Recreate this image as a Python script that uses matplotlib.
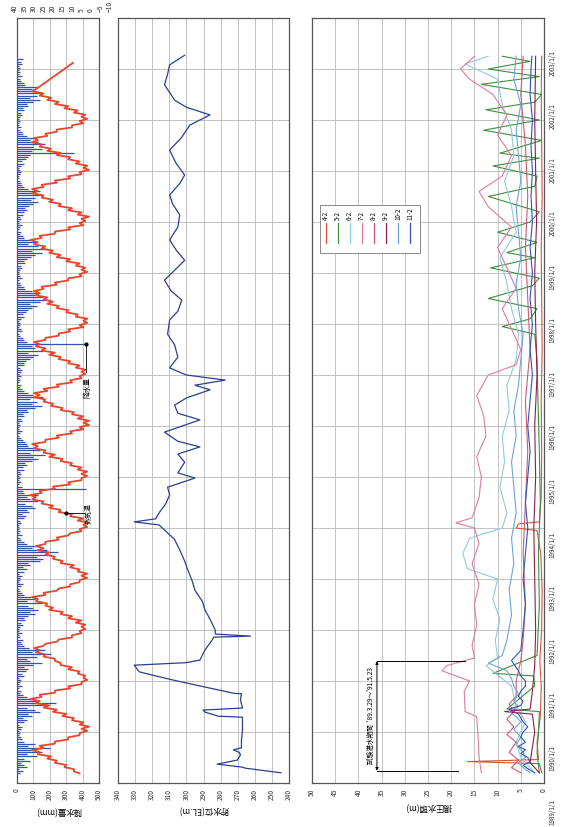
import numpy as np
import matplotlib.pyplot as plt
import matplotlib.transforms as mtransforms
from matplotlib.patches import Rectangle

plt.rcParams['font.family'] = ['Noto Sans CJK JP', 'DejaVu Sans']

W, H = 565, 827


def px_box(x0, y0, x1, y1):
    # pixel box (from top-left) -> figure fraction rect
    return [x0 / W, 1 - y1 / H, (x1 - x0) / W, (y1 - y0) / H]


# 気温 (℃), 半月ごと 1989/3 ～ 2002/8
temp_c = (
    [6, 9, 9, 14, 13, 19, 18, 23, 21, 28, 27, 31, 25, 27, 19, 19, 12, 12, 6, 6]
    + [2, 5, 1, 6, 4, 10, 9, 15, 13, 20, 18, 25, 22, 29, 27, 32, 26, 27, 19, 19, 11, 12, 5, 5]
    + [2, 4, 3, 7, 6, 12, 10, 16, 16, 19, 19, 25, 24, 29, 27, 30, 25, 24, 18, 17, 10, 10, 5, 6]
    + [3, 5, 3, 8, 5, 12, 10, 16, 15, 22, 20, 24, 23, 29, 28, 31, 24, 25, 18, 17, 11, 11, 6, 6]
    + [2, 5, 2, 7, 6, 11, 9, 16, 15, 20, 19, 24, 22, 28, 25, 29, 24, 24, 17, 18, 12, 11, 5, 6]
    + [2, 4, 1, 7, 4, 11, 10, 17, 16, 22, 20, 26, 25, 31, 29, 32, 26, 27, 19, 20, 11, 12, 5, 5]
    + [2, 5, 2, 7, 5, 11, 10, 16, 15, 22, 19, 25, 24, 30, 28, 31, 24, 24, 17, 18, 10, 11, 4, 6]
    + [1, 4, 1, 7, 4, 10, 9, 16, 15, 21, 20, 25, 24, 30, 27, 30, 23, 25, 17, 18, 10, 11, 5, 6]
    + [3, 5, 3, 8, 6, 12, 11, 17, 16, 22, 19, 26, 24, 29, 27, 30, 24, 24, 17, 17, 11, 12, 4, 6]
    + [2, 4, 2, 8, 7, 13, 12, 18, 17, 23, 20, 25, 23, 29, 27, 30, 25, 26, 18, 19, 12, 12, 5, 6]
    + [2, 5, 3, 8, 6, 13, 11, 18, 16, 22, 20, 26, 24, 30, 28, 32, 26, 27, 19, 19, 11, 12, 4, 6]
    + [3, 5, 1, 7, 5, 12, 10, 17, 16, 22, 20, 26, 25, 31, 28, 31, 25, 26, 18, 19, 11, 12, 5, 6]
    + [1, 4, 2, 8, 6, 12, 11, 18, 16, 23, 21, 27, 26, 31, 28, 30, 23, 24, 18, 18, 10, 10, 4, 6]
    + [2, 5, 3, 9, 7, 14, 12, 19, 17, 23, 21, 27, 25, 31, 29]
)
temp_tail_t = [2003.12]
temp_tail_c = [9.5]

# 日降水量 (mm), 半月ごとの最大値 1989/3 ～ 2003/3
precip_mm = (
    [20, 35, 15, 60, 40, 25, 80, 45, 120, 60, 150, 90, 200, 70, 110, 40, 30, 25, 15, 20]
    + [10, 25, 30, 15, 45, 60, 35, 90, 70, 140, 110, 60, 180, 240, 130, 90, 60, 35, 20, 25, 15, 30, 10, 20]
    + [25, 15, 40, 30, 55, 70, 45, 100, 150, 80, 60, 120, 210, 90, 170, 75, 40, 30, 25, 35, 20, 15, 30, 10]
    + [15, 20, 35, 25, 50, 40, 65, 110, 80, 130, 95, 70, 150, 60, 110, 85, 45, 30, 20, 15, 25, 35, 10, 20]
    + [20, 30, 15, 45, 60, 35, 80, 70, 140, 160, 120, 200, 250, 180, 90, 110, 60, 40, 25, 20, 30, 15, 20, 10]
    + [10, 15, 25, 20, 40, 55, 30, 75, 60, 110, 90, 50, 130, 80, 60, 130, 45, 35, 420, 30, 15, 25, 10, 20]
    + [15, 25, 20, 40, 35, 60, 50, 90, 130, 100, 170, 80, 140, 110, 70, 60, 50, 35, 25, 15, 20, 30, 10, 15]
    + [20, 10, 30, 25, 45, 35, 70, 60, 110, 150, 90, 120, 80, 160, 100, 70, 45, 30, 20, 25, 15, 20, 10, 25]
    + [15, 25, 30, 20, 40, 40, 55, 80, 95, 130, 70, 160, 110, 90, 420, 60, 40, 35, 20, 15, 30, 25, 10, 20]
    + [20, 15, 25, 40, 35, 55, 70, 90, 120, 80, 140, 200, 160, 110, 130, 90, 50, 40, 25, 20, 15, 30, 20, 10]
    + [10, 20, 30, 25, 50, 40, 60, 85, 110, 150, 90, 180, 130, 70, 120, 80, 45, 35, 20, 25, 15, 20, 30, 10]
    + [15, 25, 20, 35, 45, 60, 50, 75, 100, 130, 85, 110, 160, 90, 140, 70, 40, 30, 25, 20, 15, 10, 20, 25]
    + [20, 10, 25, 40, 30, 55, 65, 80, 350, 90, 150, 100, 170, 130, 80, 110, 60, 35, 30, 20, 25, 15, 10, 20]
    + [15, 20, 30, 25, 45, 35, 70, 60, 100, 140, 80, 120, 150, 110, 90, 130, 50, 40, 25, 20, 30, 15, 20, 10]
    + [20, 15, 30, 25, 35]
)

# 貯水位 (EL.m)
level_t = [1989.20, 1989.29, 1989.31, 1989.37, 1989.45, 1989.55, 1989.60, 1989.65, 1989.69, 1989.84,
           1990.04, 1990.29, 1990.31, 1990.39, 1990.43, 1990.47, 1990.63, 1990.75, 1990.76, 1991.02,
           1991.10, 1991.18, 1991.31, 1991.36, 1991.41, 1991.61, 1991.80, 1991.86, 1991.88, 1991.92,
           1992.00, 1992.20, 1992.39, 1992.55, 1992.78, 1992.95, 1993.18, 1993.35, 1993.57, 1993.78,
           1993.96, 1994.06, 1994.12, 1994.18, 1994.31, 1994.48, 1994.65, 1994.80, 1994.98, 1995.08,
           1995.29, 1995.45, 1995.59, 1995.70, 1995.88, 1996.12, 1996.25, 1996.41, 1996.55, 1996.71,
           1996.80, 1996.90, 1997.00, 1997.14, 1997.35, 1997.59, 1997.80, 1998.08, 1998.25, 1998.47,
           1998.65, 1998.86, 1999.05, 1999.25, 1999.45, 1999.65, 1999.90, 2000.14, 2000.35, 2000.53,
           2000.75, 2000.92, 2001.15, 2001.41, 2001.65, 2001.90, 2002.10, 2002.25, 2002.39, 2002.55,
           2002.69, 2002.90, 2003.08, 2003.27]
level_m = [244.7, 265.4, 267.2, 282.0, 270.2, 268.4, 269.0, 272.5, 267.8, 267.8,
           267.2, 267.2, 281.4, 289.1, 290.3, 267.2, 268.4, 267.8, 272.5, 308.0,
           318.0, 327.6, 330.5, 300.0, 292.1, 289.1, 285.0, 284.0, 262.5, 283.0,
           283.2, 286.0, 289.1, 290.5, 295.0, 296.5, 299.2, 301.0, 303.9, 307.0,
           312.8, 316.0, 330.5, 318.0, 315.7, 312.0, 309.8, 311.0, 295.0, 305.0,
           301.0, 305.0, 292.1, 305.0, 312.8, 292.1, 305.0, 306.9, 300.0, 286.2,
           295.0, 277.3, 300.0, 309.8, 305.0, 306.9, 311.0, 309.8, 305.0, 302.7,
           309.0, 312.8, 307.0, 301.0, 306.0, 309.8, 305.0, 303.9, 308.0, 309.8,
           304.0, 301.0, 306.0, 309.8, 303.0, 298.0, 286.2, 300.0, 306.9, 310.0,
           312.8, 311.0, 309.8, 301.0]

# 揚圧水頭 (m)
p42_t = [1989.20, 1989.38, 1989.42, 1989.46, 1989.8, 1990.3, 1990.9, 1991.4, 1992.0, 1992.8,
         1993.5, 1993.95, 1994.0, 1994.08, 1994.12, 1994.6, 1995.5, 1996.5, 1997.5, 1998.5,
         1999.5, 2000.5, 2001.5, 2002.5, 2003.25]
p42_v = [0.5, 1.0, 16.5, 1.2, 1.5, 0.8, 0.6, 0.9, 0.5, 0.4,
         0.7, 1.5, 6.0, 5.5, 1.0, 0.6, 0.5, 0.6, 0.4, 0.5,
         0.6, 0.4, 0.5, 0.6, 0.5]

p52_t = [1989.2, 1989.6, 1990.0, 1990.4, 1990.45, 1990.9, 1991.1, 1991.15, 1991.5, 1992.5,
         1993.5, 1994.5, 1995.5, 1996.5, 1997.3, 1997.8, 1997.95, 1998.1, 1998.3, 1998.5,
         1998.75, 1998.9, 1999.1, 1999.3, 1999.4, 1999.6, 1999.8, 2000.0, 2000.2, 2000.5,
         2000.7, 2000.9, 2001.1, 2001.25, 2001.35, 2001.6, 2001.8, 2002.0, 2002.2, 2002.35,
         2002.5, 2002.7, 2002.85, 2003.0, 2003.15, 2003.25]
p52_v = [1.0, 1.5, 1.2, 1.0, 8.0, 2.0, 2.2, 11.0, 1.5, 1.0,
         1.2, 0.8, 1.0, 1.3, 1.5, 2.0, 9.0, 3.0, 1.5, 12.0,
         2.5, 1.0, 11.5, 2.0, 8.0, 1.5, 10.0, 3.0, 1.0, 12.0,
         2.0, 1.5, 11.0, 1.0, 9.5, 0.5, 13.0, 1.0, 12.5, 2.0,
         0.5, 13.5, 1.0, 12.0, 3.0, 9.0]

p62_t = [1989.2, 1989.5, 1989.8, 1990.2, 1990.5, 1990.9, 1991.3, 1991.45, 1991.8, 1992.2,
         1992.6, 1993.0, 1993.2, 1993.5, 1993.8, 1994.0, 1994.3, 1994.8, 1995.3, 1995.8,
         1996.3, 1996.8, 1997.3, 1997.8, 1998.3, 1998.8, 1999.3, 1999.8, 2000.3, 2000.8,
         2001.3, 2001.8, 2002.3, 2002.8, 2003.1, 2003.25]
p62_v = [2, 5, 6, 4, 6, 7, 12.5, 10, 10.5, 9.5,
         11, 10, 16.5, 17.5, 16, 9, 8, 9.5, 8.5, 9,
         7.5, 8, 6, 5.5, 7, 8, 9.5, 6, 7, 8.5,
         6.5, 7, 9, 10, 17, 12]

p72_t = [1989.2, 1989.5, 1989.9, 1990.3, 1990.4, 1990.8, 1991.0, 1991.2, 1991.3, 1991.45,
         1991.7, 1992.1, 1992.5, 1992.9, 1993.3, 1993.7, 1994.0, 1994.1, 1994.2, 1994.6,
         1995.0, 1995.4, 1995.8, 1996.2, 1996.6, 1997.0, 1997.2, 1997.5, 1997.9, 1998.3,
         1998.7, 1999.1, 1999.5, 1999.9, 2000.3, 2000.6, 2000.9, 2001.3, 2001.7, 2002.1,
         2002.5, 2002.8, 2003.0, 2003.25]
p72_v = [13.5, 14, 14.2, 14.5, 17, 17.2, 16, 22, 21, 15,
         15.5, 14.5, 15, 14, 15.5, 14, 15, 19, 15.5, 14,
         13.5, 14.5, 12.5, 13, 14.5, 12, 6, 5, 7, 9,
         6, 8, 10, 7, 12, 14, 9, 7, 10, 8,
         11, 16, 18, 15]

p82_t = [1989.2, 1989.3, 1989.45, 1989.6, 1989.8, 1989.95, 1990.1, 1990.25, 1990.4, 1990.55,
         1990.7, 1991.0, 1991.4, 1991.8, 1992.5, 1993.5, 1994.5, 1995.5, 1996.5, 1997.5,
         1998.5, 1999.5, 2000.5, 2001.5, 2002.5, 2003.25]
p82_v = [5, 7, 5.5, 7.5, 6, 8, 6.5, 8, 6.5, 7.5,
         6, 6, 5, 4.5, 4, 4.5, 4, 3.5, 4, 3,
         3.5, 4, 3.5, 4, 5, 4.5]

p92_t = [1989.2, 1989.4, 1989.7, 1990.0, 1990.35, 1990.4, 1990.45, 1990.8, 1991.3, 1992.0,
         1993.0, 1994.0, 1995.0, 1996.0, 1997.0, 1998.0, 1999.0, 2000.0, 2001.0, 2002.0,
         2003.25]
p92_v = [1, 3, 2.5, 2, 2.5, 8.5, 3, 2.5, 2, 1.8,
         2, 2.2, 1.8, 2, 1.5, 1.8, 2, 1.6, 1.8, 2,
         1.8]

p102_t = [1989.2, 1989.3, 1989.4, 1989.5, 1989.6, 1989.75, 1989.9, 1990.05, 1990.2, 1990.3,
          1990.4, 1990.5, 1990.6, 1990.75, 1990.9, 1991.05, 1991.2, 1991.35, 1991.5, 1991.8,
          1992.3, 1992.8, 1993.3, 1993.8, 1994.3, 1994.8, 1995.3, 1995.8, 1996.3, 1996.8,
          1997.3, 1997.8, 1998.3, 1998.8, 1999.3, 1999.8, 2000.3, 2000.8, 2001.3, 2001.8,
          2002.3, 2002.8, 2003.25]
p102_v = [3, 4.5, 5.5, 4, 4.5, 6, 5, 6.5, 5, 6,
          7.5, 5.5, 6.5, 5.5, 6.5, 7, 8, 12, 9, 8,
          7, 7.5, 6.5, 7, 6, 6.5, 7, 6, 6.5, 5.5,
          5, 4.5, 5.5, 6, 5, 5.5, 6, 5, 5.5, 6,
          5, 6.5, 6]

p112_t = [1989.2, 1989.28, 1989.35, 1989.42, 1989.5, 1989.58, 1989.65, 1989.72, 1989.8, 1989.9,
          1990.0, 1990.1, 1990.2, 1990.35, 1990.45, 1990.52, 1990.6, 1990.7, 1990.8, 1990.9,
          1991.0, 1991.1, 1991.2, 1991.4, 1991.6, 1992.0, 1992.5, 1993.0, 1993.5, 1994.0,
          1994.5, 1995.0, 1995.5, 1996.0, 1996.5, 1997.0, 1997.5, 1998.0, 1998.5, 1999.0,
          1999.5, 2000.0, 2000.5, 2001.0, 2001.5, 2002.0, 2002.5, 2003.0, 2003.25]
p112_v = [2, 3.5, 4.5, 3, 3.5, 5, 4, 5.5, 4, 5,
          4.5, 3.5, 4.5, 5.5, 7.5, 5, 4.5, 5.5, 5, 4,
          4, 5, 5.5, 7, 5, 4.5, 4, 4.5, 4, 3.5,
          4, 3.5, 3, 3.5, 3, 2.5, 3, 2.5, 3, 2.5,
          3, 2.5, 2.8, 2.5, 2.8, 2.5, 3, 2.8, 2.6]

gauge_names = ['4-2', '5-2', '6-2', '7-2', '8-2', '9-2', '10-2', '11-2']
gauge_colors = ['#d2553c', '#3f8f3f', '#8fcbe0', '#e07aa5', '#cd5a78', '#8e1f44', '#6fa3dc', '#2e55b5']
gauge_data = [(p42_t, p42_v), (p52_t, p52_v), (p62_t, p62_v), (p72_t, p72_v),
              (p82_t, p82_v), (p92_t, p92_v), (p102_t, p102_v), (p112_t, p112_v)]

years = list(range(1989, 2004))
impound_start, impound_end = 1989.24, 1991.39   # '89.3.29 ～ '91.5.23

# 半月刻みの時刻
t_temp = 1989 + (np.arange(4, 4 + len(temp_c)) + 0.5) / 24
t_temp = np.concatenate([t_temp, temp_tail_t])
temp_all = np.concatenate([temp_c, temp_tail_c])
t_prec = 1989 + (np.arange(4, 4 + len(precip_mm)) + 0.5) / 24

fig = plt.figure(figsize=(W / 100, H / 100), dpi=100)

ax_p = fig.add_axes(px_box(17, 18, 99, 783))
ax_r = fig.add_axes(px_box(118, 18, 289, 783))
ax_u = fig.add_axes(px_box(312, 18, 544, 783))

for ax in (ax_p, ax_r, ax_u):
    ax.set_ylim(1989, 2004)
    ax.set_yticks(range(1989, 2005))
    ax.tick_params(axis='y', left=False, labelleft=False)
    ax.tick_params(axis='x', length=0, pad=4, labelsize=4.8, labelrotation=90, colors='#333333')
    ax.grid(True, color='#b8b8b8', lw=0.6)
    ax.set_axisbelow(True)
    for s in ax.spines.values():
        s.set_color('#555555')
        s.set_linewidth(0.9)

# 降水量
ax_p.set_xlim(0, 500)
ax_p.set_xticks(range(0, 501, 100))
ax_p.hlines(t_prec, 0, precip_mm, color='#3552b0', lw=0.9)
ax_p.set_xlabel('降水量(mm)', fontsize=6, rotation=180, labelpad=4)

# 気温 (別目盛り)
ax_t = fig.add_axes(px_box(15, 18, 110, 783))
ax_t.set_xlim(40, -10)
ax_t.set_ylim(1989, 2004)
ax_t.patch.set_visible(False)
for s in ax_t.spines.values():
    s.set_visible(False)
ax_t.set_yticks([])
ax_t.xaxis.tick_top()
ax_t.set_xticks(range(40, -11, -5))
ax_t.tick_params(axis='x', length=0, pad=4, labelsize=4.8, labelrotation=90, colors='#333333')
ax_t.plot(temp_all, t_temp, color='#e8452c', lw=1.3)

# 注記
rain_i = len(precip_mm) - 1 - int(np.argmax(np.array(precip_mm[::-1]) == 420))
ax_p.plot(precip_mm[rain_i], t_prec[rain_i], 'o', color='k', ms=2)
ax_p.plot([precip_mm[rain_i], precip_mm[rain_i]], [t_prec[rain_i], t_prec[rain_i] - 0.55], color='k', lw=0.6)
ax_p.text(precip_mm[rain_i] + 10, t_prec[rain_i] - 0.85, '降水量', rotation=90,
          ha='center', va='center', fontsize=5, clip_on=False)

ann_t = 1994.29
ann_c = float(np.interp(ann_t, t_temp, temp_all))
ax_t.plot(ann_c, ann_t, 'o', color='k', ms=2)
ax_t.plot([ann_c, 3.5], [ann_t, ann_t], color='k', lw=0.6)
ax_t.text(1.0, ann_t, '外気温', rotation=90, ha='center', va='center', fontsize=5)

# 貯水位
ax_r.set_xlim(340, 240)
ax_r.set_xticks(range(340, 239, -10))
ax_r.plot(level_m, level_t, color='#2a3f8f', lw=0.9)
ax_r.set_xlabel('貯水位(EL.m)', fontsize=6, rotation=180, labelpad=4)

# 揚圧水頭
ax_u.set_xlim(50, 0)
ax_u.set_xticks(range(50, -1, -5))
for (tt, vv), c in zip(gauge_data, gauge_colors):
    ax_u.plot(vv, tt, color=c, lw=0.8)
ax_u.set_xlabel('揚圧水頭(m)', fontsize=6, rotation=180, labelpad=4)

# 試験湛水期間
ax_u.annotate('', xy=(36, impound_start), xytext=(36, impound_end),
              arrowprops=dict(arrowstyle='<|-|>', color='k', lw=0.7, mutation_scale=4,
                              shrinkA=0, shrinkB=0))
ax_u.plot([36, 18.5], [impound_start, impound_start], color='k', lw=0.7)
ax_u.plot([36, 17.0], [impound_end, impound_end], color='k', lw=0.7)
ax_u.text(37.4, (impound_start + impound_end) / 2, "試験湛水期間  '89.3.29～'91.5.23",
          rotation=90, ha='center', va='center', fontsize=4.8)


# 凡例
def fr(px, py):
    return (px - 312) / 232, (783 - py) / 765


x0, y0 = fr(320, 253)
x1, y1 = fr(420, 205)
ax_u.add_patch(Rectangle((x0, y0), x1 - x0, y1 - y0, transform=ax_u.transAxes,
                         facecolor='white', edgecolor='#777777', lw=0.6, zorder=5))
for i, (name, c) in enumerate(zip(gauge_names, gauge_colors)):
    lx, ly_a = fr(326 + 12 * i, 243)
    _, ly_b = fr(326 + 12 * i, 223)
    ax_u.plot([lx, lx], [ly_a, ly_b], color=c, lw=0.9, transform=ax_u.transAxes, zorder=6)
    _, ly_t = fr(0, 220)
    ax_u.text(lx, ly_t, name, rotation=90, ha='center', va='bottom', fontsize=4.5,
              transform=ax_u.transAxes, zorder=6)

# 日付ラベル
ax_d = fig.add_axes(px_box(545, 812 - 15 * 53.5, 560, 812))
ax_d.set_ylim(1989, 2004)
ax_d.axis('off')
trans = mtransforms.blended_transform_factory(ax_d.transAxes, ax_d.transData)
for yr in years:
    ax_d.text(0.5, yr, f'{yr}/1/1', transform=trans, rotation=90,
              ha='center', va='center', fontsize=4.5, color='#333333')

fig.savefig('out.png', dpi=100, facecolor='white')
